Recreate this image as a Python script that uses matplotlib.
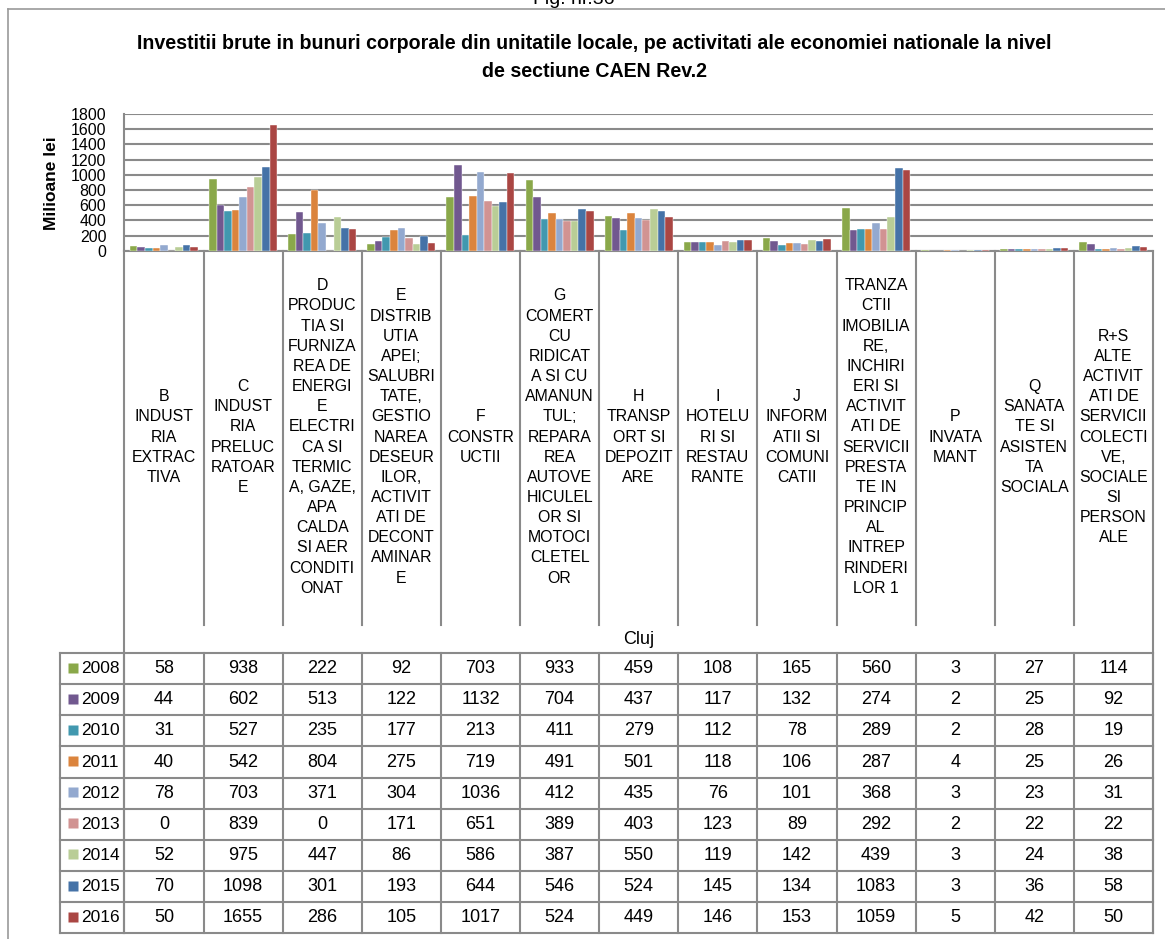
import matplotlib
matplotlib.use("Agg")
import matplotlib.pyplot as plt
from matplotlib import font_manager

# date: Investitii brute in bunuri corporale, Cluj (milioane lei)
years = ["2008", "2009", "2010", "2011", "2012", "2013", "2014", "2015", "2016"]
categories = [
    "B\nINDUST\nRIA\nEXTRAC\nTIVA",
    "C\nINDUST\nRIA\nPRELUC\nRATOAR\nE",
    "D\nPRODUC\nTIA SI\nFURNIZA\nREA DE\nENERGI\nE\nELECTRI\nCA SI\nTERMIC\nA, GAZE,\nAPA\nCALDA\nSI AER\nCONDITI\nONAT",
    "E\nDISTRIB\nUTIA\nAPEI;\nSALUBRI\nTATE,\nGESTIO\nNAREA\nDESEUR\nILOR,\nACTIVIT\nATI DE\nDECONT\nAMINAR\nE",
    "F\nCONSTR\nUCTII",
    "G\nCOMERT\nCU\nRIDICAT\nA SI CU\nAMANUN\nTUL;\nREPARA\nREA\nAUTOVE\nHICULEL\nOR SI\nMOTOCI\nCLETEL\nOR",
    "H\nTRANSP\nORT SI\nDEPOZIT\nARE",
    "I\nHOTELU\nRI SI\nRESTAU\nRANTE",
    "J\nINFORM\nATII SI\nCOMUNI\nCATII",
    "TRANZA\nCTII\nIMOBILIA\nRE,\nINCHIRI\nERI SI\nACTIVIT\nATI DE\nSERVICII\nPRESTA\nTE IN\nPRINCIP\nAL\nINTREP\nRINDERI\nLOR 1",
    "P\nINVATA\nMANT",
    "Q\nSANATA\nTE SI\nASISTEN\nTA\nSOCIALA",
    "R+S\nALTE\nACTIVIT\nATI DE\nSERVICII\nCOLECTI\nVE,\nSOCIALE\nSI\nPERSON\nALE",
]
v2008 = [58, 938, 222, 92, 703, 933, 459, 108, 165, 560, 3, 27, 114]
v2009 = [44, 602, 513, 122, 1132, 704, 437, 117, 132, 274, 2, 25, 92]
v2010 = [31, 527, 235, 177, 213, 411, 279, 112, 78, 289, 2, 28, 19]
v2011 = [40, 542, 804, 275, 719, 491, 501, 118, 106, 287, 4, 25, 26]
v2012 = [78, 703, 371, 304, 1036, 412, 435, 76, 101, 368, 3, 23, 31]
v2013 = [0, 839, 0, 171, 651, 389, 403, 123, 89, 292, 2, 22, 22]
v2014 = [52, 975, 447, 86, 586, 387, 550, 119, 142, 439, 3, 24, 38]
v2015 = [70, 1098, 301, 193, 644, 546, 524, 145, 134, 1083, 3, 36, 58]
v2016 = [50, 1655, 286, 105, 1017, 524, 449, 146, 153, 1059, 5, 42, 50]
series = [v2008, v2009, v2010, v2011, v2012, v2013, v2014, v2015, v2016]
yticks = [0, 200, 400, 600, 800, 1000, 1200, 1400, 1600, 1800]

colors = ["#8AA84A", "#71588F", "#4198AF", "#DB843D", "#93A9CF",
          "#D19392", "#B9CD96", "#4572A7", "#AA4643"]

# fonturi (Arial Narrow nu exista -> Liberation Sans, mai mic)
names = {f.name for f in font_manager.fontManager.ttflist}
narrow = "Liberation Sans Narrow" if "Liberation Sans Narrow" in names else "Liberation Sans"
plt.rcParams["font.family"] = [narrow, "DejaVu Sans"]

W, H = 1165, 939
fig = plt.figure(figsize=(W / 100, H / 100), dpi=100)

# geometrie (pixeli)
px_left, px_right = 124.4, 1153.0
px_top, px_zero = 114.0, 250.7
n = len(categories)
colw = (px_right - px_left) / n

ax = fig.add_axes([px_left / W, 1 - px_zero / H, (px_right - px_left) / W, (px_zero - px_top) / H])
ov = fig.add_axes([0, 0, 1, 1], zorder=-1)
ov.set_xlim(0, W)
ov.set_ylim(H, 0)
ov.axis("off")

gridc = "#8a8a8a"

# bare
bw = 0.86 / len(years)
for j, (yr, vals) in enumerate(zip(years, series)):
    xs = [i + (j - (len(years) - 1) / 2) * bw for i in range(n)]
    ax.bar(xs, vals, width=bw, color=colors[j], edgecolor="white", linewidth=0.3, zorder=3)

ax.set_xlim(-0.5, n - 0.5)
ax.set_ylim(0, 1800)
ax.set_yticks(yticks)
ax.set_yticklabels([str(t) for t in yticks], fontsize=11.5)
ax.tick_params(axis="y", length=0, pad=13)
ax.set_xticks([])
ax.yaxis.grid(True, color=gridc, linewidth=1.5)
ax.set_axisbelow(True)
for s in ["top", "right"]:
    ax.spines[s].set_visible(False)
for s in ["left", "bottom"]:
    ax.spines[s].set_color(gridc)
    ax.spines[s].set_linewidth(1.5)
ax.patch.set_alpha(0)

# cadru
ov.plot([8, 8], [9, H], color="#9a9a9a", lw=1.2)
ov.plot([8, W], [9, 9], color="#9a9a9a", lw=1.2)

ov.text(574, 4, "Fig. nr.36", ha="center", va="baseline", fontsize=14)
ov.text(594, 57.5,
        "Investitii brute in bunuri corporale din unitatile locale, pe activitati ale economiei nationale la nivel\nde sectiune CAEN Rev.2",
        ha="center", va="center", fontsize=14.1, fontweight="bold", linespacing=1.55)
ov.text(52, 183, "Milioane lei", rotation=90, ha="center", va="center",
        fontsize=12.5, fontweight="bold")

# antet tabel
hdr_bottom, cluj_bottom = 625.0, 653.0
xb = [px_left + i * colw for i in range(n + 1)]
for i, x in enumerate(xb):
    y2 = 933.3 if i in (0, n) else hdr_bottom
    ov.plot([x, x], [px_zero, y2], color=gridc, lw=1.5)
for i, lab in enumerate(categories):
    ov.text(xb[i] + colw / 2, 437, lab, ha="center", va="center", fontsize=11.4,
            linespacing=1.43)
ov.text((px_left + px_right) / 2, 639, "Cluj", ha="center", va="center", fontsize=13)

# tabel date
row_h = (933.3 - cluj_bottom) / len(years)
leg_left = 60
for r in range(len(years) + 1):
    y = cluj_bottom + r * row_h
    ov.plot([leg_left, px_right], [y, y], color=gridc, lw=1.5)
for x in [leg_left] + xb:
    ov.plot([x, x], [cluj_bottom, 933.3], color=gridc, lw=1.5)
for r, (yr, vals) in enumerate(zip(years, series)):
    yc = cluj_bottom + (r + 0.5) * row_h
    ov.plot([73], [yc - 1], marker="s", ms=7.5, color=colors[r], mec="none")
    ov.text(81, yc, yr, ha="left", va="center", fontsize=12.5)
    for i, v in enumerate(vals):
        ov.text(xb[i] + colw / 2, yc, str(v), ha="center", va="center", fontsize=13)

fig.savefig("out.png", dpi=100)
